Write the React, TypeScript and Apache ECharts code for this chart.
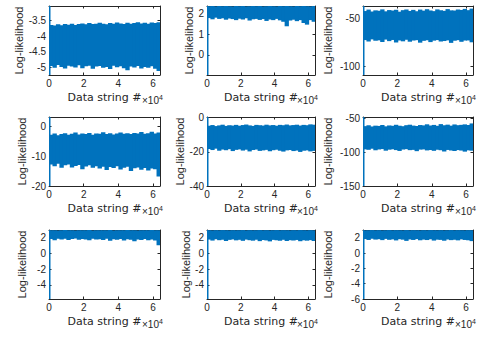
import React, { useEffect, useRef } from 'react';
import * as echarts from 'echarts';

// ---------- data ----------
const xMax = 64000;
const xStep = 2000; // each envelope value covers 2000 data strings
const xTicks = [0, 20000, 40000, 60000];
const firstSampleWidth = 300;

// y-limits = extent of the data (the first samples span the whole range)
const yLimits: number[][] = [
  [-5.25, -3.03],
  [-0.98, 2.39],
  [-108.6, -37.3],
  [-20, 3.0],
  [-40, 0.3],
  [-150, -48],
  [-5.8, 3.0],
  [-5.8, 3.0],
  [-6, 3.0],
];

const yTicks: number[][] = [
  [-5, -4.5, -4, -3.5],
  [0, 1, 2],
  [-100, -50],
  [-20, -10, 0],
  [-40, -20, 0],
  [-150, -100, -50],
  [-4, -2, 0, 2],
  [-4, -2, 0, 2],
  [-6, -4, -2, 0, 2],
];

// upper / lower envelopes of the noisy log-likelihood traces
const p1Upper = [-3.64, -3.66, -3.62, -3.65, -3.61, -3.63, -3.6, -3.64, -3.61, -3.59, -3.62, -3.58, -3.61, -3.6, -3.57, -3.6, -3.62, -3.58, -3.6, -3.56, -3.59, -3.61, -3.57, -3.6, -3.58, -3.55, -3.59, -3.57, -3.6, -3.56, -3.58, -3.55];
const p1Lower = [-4.96, -5.02, -4.93, -4.99, -5.04, -4.95, -4.98, -5.01, -4.94, -5.03, -4.97, -4.95, -5.05, -4.98, -4.96, -5.02, -4.99, -5.06, -4.95, -5.0, -4.97, -5.03, -5.1, -4.98, -5.01, -4.96, -5.04, -4.99, -5.02, -4.97, -5.05, -5.12];

const p2Upper = [2.38, 2.39, 2.37, 2.39, 2.38, 2.39, 2.38, 2.37, 2.39, 2.38, 2.39, 2.37, 2.38, 2.39, 2.38, 2.39, 2.37, 2.38, 2.39, 2.38, 2.37, 2.39, 2.38, 2.39, 2.38, 2.37, 2.39, 2.38, 2.39, 2.38, 2.37, 2.39];
const p2Lower = [1.8, 1.74, 1.82, 1.76, 1.79, 1.72, 1.78, 1.75, 1.7, 1.77, 1.73, 1.79, 1.68, 1.74, 1.76, 1.71, 1.75, 1.66, 1.73, 1.7, 1.76, 1.69, 1.62, 1.4, 1.68, 1.72, 1.65, 1.7, 1.56, 1.48, 1.7, 1.62];

const p3Upper = [-42.5, -41.0, -43.0, -41.8, -42.2, -40.8, -42.8, -41.5, -42.0, -41.2, -43.2, -41.6, -40.9, -42.4, -41.3, -42.7, -41.0, -42.1, -40.6, -41.9, -42.6, -40.8, -41.7, -42.3, -40.5, -41.8, -42.0, -40.9, -41.4, -40.3, -41.6, -40.0];
const p3Lower = [-72.5, -74.0, -71.8, -73.2, -72.8, -74.5, -72.0, -73.6, -72.4, -75.0, -72.9, -73.8, -72.2, -74.2, -73.0, -72.6, -75.2, -73.3, -72.7, -74.6, -73.1, -72.5, -74.0, -73.5, -72.8, -75.4, -73.2, -72.6, -74.3, -73.0, -72.9, -74.8];

const p4Upper = [-2.9, -2.5, -3.1, -2.7, -2.4, -2.9, -2.6, -2.2, -2.8, -2.5, -2.7, -2.3, -2.9, -2.5, -2.6, -2.1, -2.7, -2.4, -2.8, -2.5, -2.2, -2.6, -2.4, -2.7, -2.3, -2.5, -2.0, -2.6, -2.4, -1.9, -2.5, -2.2];
const p4Lower = [-12.8, -13.4, -12.6, -13.9, -13.1, -12.8, -13.8, -13.3, -13.0, -14.4, -13.5, -13.1, -13.9, -13.4, -14.2, -13.6, -14.7, -13.7, -14.0, -13.4, -14.5, -13.9, -13.6, -15.0, -14.1, -13.8, -14.6, -14.0, -14.8, -14.2, -14.4, -16.8];

const p5Upper = [-4.8, -4.4, -5.0, -4.6, -4.2, -4.9, -4.5, -4.7, -4.3, -4.8, -4.4, -4.1, -4.6, -4.9, -4.3, -4.5, -4.7, -4.2, -4.6, -4.4, -4.8, -4.3, -4.5, -4.1, -4.6, -4.4, -4.2, -4.7, -4.3, -4.5, -4.0, -4.2];
const p5Lower = [-18.4, -19.0, -18.2, -19.4, -18.7, -19.1, -18.5, -19.6, -18.9, -18.6, -19.3, -18.8, -19.8, -19.0, -18.7, -19.5, -19.2, -18.9, -19.7, -19.1, -18.8, -19.4, -19.9, -19.2, -19.0, -19.6, -19.3, -20.1, -19.4, -19.2, -19.8, -19.5];

const p6Upper = [-61.5, -60.2, -62.0, -60.8, -61.2, -59.8, -61.8, -60.5, -61.0, -59.5, -60.9, -61.6, -60.1, -59.4, -60.7, -61.3, -59.9, -60.4, -58.8, -60.6, -59.7, -61.0, -58.5, -60.2, -59.3, -60.8, -59.0, -60.1, -59.6, -58.9, -59.8, -57.5];
const p6Lower = [-95.8, -96.5, -94.9, -97.2, -96.0, -95.4, -97.8, -96.3, -95.7, -96.9, -98.2, -96.1, -95.5, -97.0, -96.6, -98.5, -96.2, -95.9, -97.4, -96.8, -98.0, -96.4, -97.1, -99.0, -96.7, -97.5, -98.3, -96.9, -97.6, -99.2, -97.3, -97.8];

const p7Upper = [2.96, 2.98, 2.95, 2.97, 2.99, 2.96, 2.98, 2.95, 2.97, 2.98, 2.96, 2.99, 2.95, 2.97, 2.98, 2.96, 2.97, 2.99, 2.95, 2.98, 2.96, 2.97, 2.99, 2.96, 2.98, 2.95, 2.97, 2.98, 2.96, 2.99, 2.97, 2.96];
const p7Lower = [1.85, 1.7, 1.9, 1.78, 1.88, 1.72, 1.84, 1.92, 1.76, 1.86, 1.8, 1.68, 1.87, 1.79, 1.83, 1.74, 1.89, 1.62, 1.81, 1.77, 1.85, 1.66, 1.82, 1.75, 1.58, 1.8, 1.72, 1.84, 1.7, 1.78, 1.65, 1.05];

const p8Upper = [2.97, 2.95, 2.98, 2.96, 2.99, 2.97, 2.95, 2.98, 2.96, 2.97, 2.99, 2.95, 2.98, 2.96, 2.97, 2.99, 2.96, 2.98, 2.95, 2.97, 2.99, 2.96, 2.98, 2.97, 2.95, 2.98, 2.96, 2.99, 2.97, 2.95, 2.98, 2.96];
const p8Lower = [1.78, 1.65, 1.82, 1.7, 1.76, 1.6, 1.74, 1.8, 1.68, 1.75, 1.62, 1.78, 1.7, 1.64, 1.76, 1.58, 1.72, 1.67, 1.55, 1.74, 1.69, 1.63, 1.75, 1.6, 1.7, 1.66, 1.73, 1.57, 1.69, 1.64, 1.71, 1.6];

const p9Upper = [2.95, 2.97, 2.99, 2.96, 2.98, 2.95, 2.97, 2.99, 2.96, 2.98, 2.97, 2.95, 2.99, 2.96, 2.98, 2.97, 2.95, 2.98, 2.96, 2.99, 2.97, 2.96, 2.98, 2.95, 2.97, 2.99, 2.96, 2.98, 2.97, 2.95, 2.98, 2.97];
const p9Lower = [1.82, 1.7, 1.86, 1.75, 1.8, 1.68, 1.84, 1.72, 1.78, 1.64, 1.8, 1.74, 1.58, 1.77, 1.7, 1.81, 1.66, 1.75, 1.69, 1.79, 1.62, 1.74, 1.71, 1.6, 1.76, 1.68, 1.73, 1.65, 1.78, 1.7, 1.66, 1.55];

const uppers = [p1Upper, p2Upper, p3Upper, p4Upper, p5Upper, p6Upper, p7Upper, p8Upper, p9Upper];
const lowers = [p1Lower, p2Lower, p3Lower, p4Lower, p5Lower, p6Lower, p7Lower, p8Lower, p9Lower];

// ---------- layout ----------
const colLeft = [49, 207, 363];
const colWidth = [111, 108, 110];
const rowTop = [6, 117, 230];
const rowHeight = 69;
const yNameGap = [22, 12, 30];

const axisColor = '#262626';
const lineColor = '#0072BD';
const sans = '"Liberation Sans", Arial, sans-serif';

function renderBand(_params: any, api: any) {
  const a = api.coord([api.value(0), api.value(3)]);
  const b = api.coord([api.value(1), api.value(2)]);
  return {
    type: 'rect',
    shape: { x: a[0], y: a[1], width: Math.max(b[0] - a[0] + 0.9, 1.5), height: b[1] - a[1] },
    style: { fill: lineColor },
  };
}

function buildOption() {
  const grid: any[] = [];
  const xAxis: any[] = [];
  const yAxis: any[] = [];
  const series: any[] = [];
  const graphic: any[] = [];

  for (let i = 0; i < 9; i++) {
    const r = Math.floor(i / 3);
    const c = i % 3;
    const left = colLeft[c];
    const top = rowTop[r];
    const w = colWidth[c];
    grid.push({ left, top, width: w, height: rowHeight, containLabel: false });

    const lim = yLimits[i];
    const common = {
      gridIndex: i,
      type: 'value',
      splitLine: { show: false },
      axisLine: { show: true, onZero: false, lineStyle: { color: axisColor, width: 1 } },
      axisTick: { show: true, inside: true, length: 2.5, lineStyle: { color: axisColor } },
    };
    xAxis.push({
      ...common,
      position: 'bottom',
      min: 0,
      max: xMax,
      axisTick: { ...common.axisTick, customValues: xTicks },
      axisLabel: {
        customValues: xTicks,
        margin: 3,
        fontSize: 10,
        fontFamily: sans,
        color: axisColor,
        formatter: (v: number) => String(v / 10000),
      },
      name: 'Data string #',
      nameLocation: 'middle',
      nameGap: 17,
      nameTextStyle: { fontSize: 11, fontFamily: '"DejaVu Sans", sans-serif', color: axisColor },
    });
    xAxis.push({
      ...common,
      position: 'top',
      min: 0,
      max: xMax,
      axisTick: { ...common.axisTick, customValues: xTicks },
      axisLabel: { show: false },
    });
    yAxis.push({
      ...common,
      position: 'left',
      min: lim[0],
      max: lim[1],
      axisTick: { ...common.axisTick, customValues: yTicks[i] },
      axisLabel: { customValues: yTicks[i], margin: 3, fontSize: 10, fontFamily: sans, color: axisColor },
      name: 'Log-likelihood',
      nameLocation: 'middle',
      nameRotate: 90,
      nameGap: yNameGap[c],
      nameTextStyle: { fontSize: 11, fontFamily: sans, color: axisColor },
    });
    yAxis.push({
      ...common,
      position: 'right',
      min: lim[0],
      max: lim[1],
      axisTick: { ...common.axisTick, customValues: yTicks[i] },
      axisLabel: { show: false },
    });

    const data: number[][] = [[0, firstSampleWidth, lim[0], lim[1]]];
    const up = uppers[i];
    const lo = lowers[i];
    for (let k = 0; k < up.length; k++) {
      data.push([k * xStep, (k + 1) * xStep, lo[k], up[k]]);
    }
    series.push({
      type: 'custom',
      xAxisIndex: 2 * i,
      yAxisIndex: 2 * i,
      renderItem: renderBand,
      encode: { x: [0, 1], y: [2, 3] },
      data,
      clip: true,
      silent: true,
    });

    // x10^4 exponent label at the right end of each x axis
    const right = left + w;
    const bottom = top + rowHeight;
    graphic.push({
      type: 'text',
      x: right - 1,
      y: bottom + 25,
      style: { text: '×10', fontSize: 10, fontFamily: sans, fill: axisColor, align: 'right', verticalAlign: 'middle' },
    });
    graphic.push({
      type: 'text',
      x: right - 1,
      y: bottom + 19,
      style: { text: '4', fontSize: 7, fontFamily: sans, fill: axisColor, align: 'left', verticalAlign: 'top' },
    });
  }

  return {
    animation: false,
    backgroundColor: '#ffffff',
    grid,
    xAxis,
    yAxis,
    series,
    graphic,
  };
}

export default function App() {
  const ref = useRef<HTMLDivElement>(null);
  useEffect(() => {
    if (!ref.current) return;
    const chart = echarts.init(ref.current, undefined, { renderer: 'svg' });
    chart.setOption(buildOption() as any);
    return () => chart.dispose();
  }, []);
  return (
    <div
      ref={ref}
      style={{ position: 'absolute', left: 0, top: 0, width: 479, height: 337 }}
    />
  );
}
